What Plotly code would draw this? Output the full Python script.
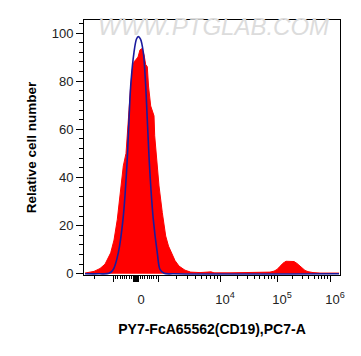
import numpy as np
import plotly.graph_objects as go

# ---------------- data (x in display channel units of the biexponential axis) ----------------
sample_x = [1, 6, 10, 16, 21, 26.7, 30, 33.3, 37.3, 39.3, 42, 44, 46.7, 48.3, 50, 52, 54,
            56, 58, 60, 61.7, 63.3, 64.5, 66.7, 70, 70.7, 72.7, 75, 78.3, 81.7, 84.5, 87.3,
            91, 95, 101, 106.7, 116, 127, 130, 146, 166, 181, 186, 190, 193, 196, 199, 202,
            206, 210, 213, 216, 219, 221, 224, 229, 236, 255]
sample_y = [0.3, 0.6, 1.0, 2.2, 4.0, 8.7, 14, 22.6, 36.5, 44.8, 50, 64, 78, 85, 88, 89, 90,
            93, 93.5, 91, 86.9, 86, 78, 69.7, 65.6, 57.3, 47.6, 36.5, 25.4, 15.7, 11.5, 8.7,
            5.5, 3.2, 1.5, 0.7, 0.5, 0.8, 0.4, 0.4, 0.4, 0.5, 0.7, 1.1, 1.8, 3.1, 4.4, 5.2,
            5.3, 5.1, 4.3, 3.1, 2.0, 1.4, 0.9, 0.5, 0.3, 0.3]

control_x = [1, 15, 25, 29.3, 34.3, 39, 42.7, 45, 46.7, 50, 52.5, 54.3, 56.5, 59.3, 61.7,
             63.3, 65.7, 69.3, 73.3, 76, 80, 90, 255]
control_y = [0, 0, 0.2, 1.8, 8.7, 22.6, 43.4, 64, 78, 92, 97.5, 98.5, 97.5, 92, 78,
             64, 43.4, 22.6, 8.7, 1.8, 0.2, 0, 0]

# axis ticks: raw value, label and display position
tick_values = [-1000, 0, 1000, 1e4, 1e5, 1e6]
tick_labels = ["", "0", "", "10<sup>4</sup>", "10<sup>5</sup>", "10<sup>6</sup>"]
tick_pos = [29.3, 52.0, 74.3, 136.0, 193.0, 246.0]

y_ticks = [0, 20, 40, 60, 80, 100]

# ---------------- tick construction ----------------
X_RANGE = [0, 256]
minor = []
for v in range(-900, 1000, 100):
    if v == 0:
        continue
    if v < 0:
        minor.append(tick_pos[1] + v / 1000 * (tick_pos[1] - tick_pos[0]))
    else:
        minor.append(tick_pos[1] + v / 1000 * (tick_pos[2] - tick_pos[1]))
for i in range(2, 5):
    a, b = tick_pos[i], tick_pos[i + 1]
    for k in range(2, 10):
        minor.append(a + np.log10(k) * (b - a))
for k in range(2, 10):
    minor.append(tick_pos[0] - np.log10(k) * (tick_pos[3] - tick_pos[2]))
minor = [m for m in minor if X_RANGE[0] + 0.5 < m < X_RANGE[1] - 0.5]

labelled_vals = [p for p, t in zip(tick_pos, tick_labels) if t]
labelled_text = [t for t in tick_labels if t]
unlabelled_vals = [p for p, t in zip(tick_pos, tick_labels) if not t]
unlabelled_vals += [tick_pos[1] + d for d in (-2.4, -1.6, -0.8, 0.8, 1.6, 2.4)]

FONT = "Liberation Sans, Arial, sans-serif"

fig = go.Figure()
fig.add_trace(go.Scatter(
    x=sample_x, y=sample_y, mode="lines", fill="tozeroy",
    fillcolor="#ff0000", line=dict(color="#ff0000", width=1),
    hoverinfo="skip", showlegend=False))
fig.add_trace(go.Scatter(
    x=control_x, y=control_y, mode="lines",
    line=dict(color="#1a1a9e", width=1.6, shape="spline", smoothing=0.9),
    hoverinfo="skip", showlegend=False))
# empty trace that registers the secondary x axis carrying unlabelled major ticks
fig.add_trace(go.Scatter(x=[None], y=[None], xaxis="x2", yaxis="y",
                         mode="lines", hoverinfo="skip", showlegend=False))

fig.update_layout(
    width=361, height=356,
    margin=dict(l=84, r=21, t=20, b=81, autoexpand=False),
    paper_bgcolor="white", plot_bgcolor="white",
    font=dict(family=FONT, color="#222222", size=13),
    xaxis=dict(
        range=X_RANGE, showgrid=False, zeroline=False,
        showline=True, linecolor="black", linewidth=1, mirror=True,
        tickmode="array", tickvals=labelled_vals, ticktext=labelled_text,
        ticks="outside", ticklen=6, tickwidth=1, tickcolor="black",
        ticklabelshift=5, ticklabelstandoff=6,
        tickfont=dict(size=13, color="#222222"),
        minor=dict(tickmode="array", tickvals=minor, ticks="outside",
                   ticklen=3, tickwidth=1, tickcolor="black"),
        title=dict(text="<b>PY7-FcA65562(CD19),PC7-A</b>",
                   font=dict(size=14, color="black"), standoff=18),
    ),
    xaxis2=dict(
        range=X_RANGE, overlaying="x", anchor="y", side="bottom",
        showgrid=False, zeroline=False, showline=False,
        tickmode="array", tickvals=unlabelled_vals, showticklabels=False,
        ticks="outside", ticklen=6, tickwidth=1, tickcolor="black",
    ),
    yaxis=dict(
        range=[-0.5, 105.4], showgrid=False, zeroline=False,
        showline=True, linecolor="black", linewidth=1, mirror=True,
        tickmode="array", tickvals=y_ticks, ticktext=[str(t) for t in y_ticks],
        ticks="outside", ticklen=7, tickwidth=1, tickcolor="black",
        tickfont=dict(size=13, color="#222222"),
        minor=dict(dtick=4, tick0=0, ticks="outside", ticklen=4,
                   tickwidth=1, tickcolor="black"),
        title=dict(text="<b>Relative cell number</b>",
                   font=dict(size=13.5, color="black"), standoff=11),
    ),
    annotations=[dict(
        text="<i>WWW.PTGLAB.COM</i>", xref="paper", yref="paper",
        x=0.505, y=0.976, xanchor="center", yanchor="middle", showarrow=False,
        font=dict(family=FONT, size=24, color="#dcdcdc"),
    )],
)

fig.write_html("out.html", post_script="document.body.style.margin='0';",
               config={"displayModeBar": False})
